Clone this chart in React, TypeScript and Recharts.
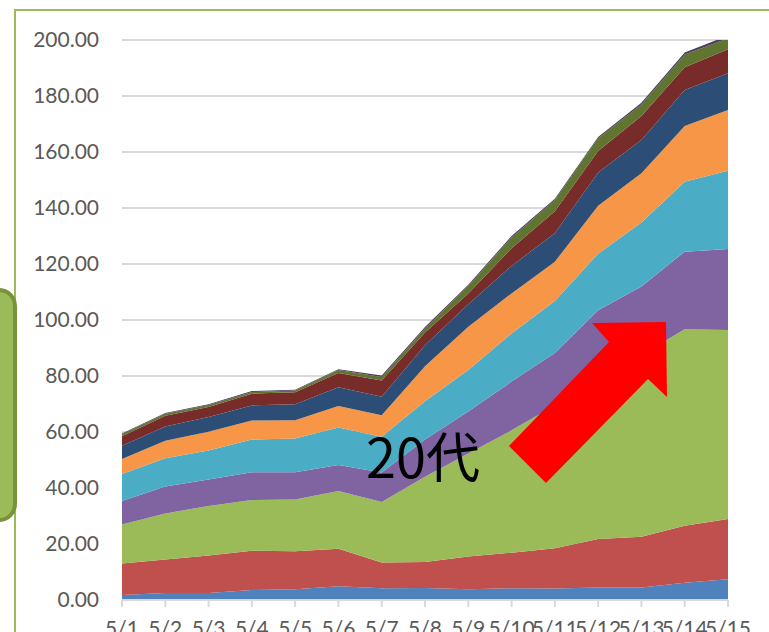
import { AreaChart, Area, XAxis, YAxis, CartesianGrid } from 'recharts';

const dates = ['5/1', '5/2', '5/3', '5/4', '5/5', '5/6', '5/7', '5/8', '5/9', '5/10', '5/11', '5/12', '5/13', '5/14', '5/15'];

// values per age group, stacked bottom to top
const under10 = [1.8, 2.5, 2.5, 3.6, 3.8, 4.9, 4.2, 4.3, 3.8, 4.2, 4.1, 4.5, 4.5, 6.2, 7.4];
const teens = [11.2, 12.0, 13.4, 14.0, 13.6, 13.4, 9.2, 9.3, 11.7, 12.7, 14.4, 17.3, 18.1, 20.3, 21.5];
const twenties = [14.0, 16.4, 17.7, 18.1, 18.5, 20.6, 21.6, 30.4, 36.8, 43.7, 51.0, 57.2, 64.9, 70.2, 67.5];
const thirties = [8.4, 9.6, 9.4, 9.9, 9.7, 9.3, 10.5, 13.3, 15.0, 17.4, 18.7, 24.5, 24.5, 27.7, 29.0];
const forties = [9.6, 10.1, 10.4, 11.7, 12.1, 13.4, 12.8, 13.7, 14.8, 17.2, 18.6, 20.2, 22.8, 25.0, 27.9];
const fifties = [5.4, 6.3, 6.7, 6.8, 6.5, 7.7, 7.7, 12.5, 15.5, 14.3, 14.0, 17.1, 17.6, 19.9, 21.7];
const sixties = [4.7, 5.1, 5.3, 5.4, 5.7, 6.7, 6.6, 7.5, 8.0, 9.8, 10.2, 11.9, 11.9, 12.8, 13.1];
const seventies = [3.4, 3.8, 3.5, 4.2, 4.3, 5.1, 5.8, 4.5, 3.9, 6.3, 7.8, 7.7, 8.6, 8.2, 8.6];
const eighties = [0.7, 0.7, 0.7, 0.6, 0.6, 1.0, 1.2, 1.5, 2.6, 3.9, 4.1, 4.5, 4.1, 4.5, 3.9];
const nineties = [0.3, 0.3, 0.3, 0.3, 0.3, 0.3, 0.6, 0.5, 0.5, 0.5, 0.4, 0.5, 0.6, 0.7, 1.0];

const yTicks = [0, 20, 40, 60, 80, 100, 120, 140, 160, 180, 200];

const SERIES = [
  { key: 'under10', values: under10, color: '#4F81BD' },
  { key: 'teens', values: teens, color: '#C0504D' },
  { key: 'twenties', values: twenties, color: '#9BBB59' },
  { key: 'thirties', values: thirties, color: '#8064A2' },
  { key: 'forties', values: forties, color: '#4BACC6' },
  { key: 'fifties', values: fifties, color: '#F79646' },
  { key: 'sixties', values: sixties, color: '#2C4D75' },
  { key: 'seventies', values: seventies, color: '#772C2A' },
  { key: 'eighties', values: eighties, color: '#5F7530' },
  { key: 'nineties', values: nineties, color: '#4D3B62' },
];

const data = dates.map((date, i) => {
  const row: Record<string, string | number> = { date };
  SERIES.forEach((s) => {
    row[s.key] = s.values[i];
  });
  return row;
});

const FONT = 'Lato, "Noto Sans", sans-serif';

export default function App() {
  return (
    <div style={{ position: 'absolute', left: 0, top: 0, width: 769, height: 632, overflow: 'hidden', background: '#fff' }}>
      <div
        style={{
          position: 'absolute',
          left: 14,
          top: 9,
          width: 820,
          height: 700,
          border: '2px solid #9BBB59',
          background: '#fff',
        }}
      />
      <div style={{ position: 'absolute', left: 0, top: 0 }}>
        <AreaChart width={769} height={632} data={data} margin={{ top: 40, right: 41, bottom: 0, left: 0 }}>
          <CartesianGrid vertical={false} stroke="#D9D9D9" strokeWidth={2} />
          <XAxis
            dataKey="date"
            interval={0}
            height={32}
            axisLine={{ stroke: '#D9D9D9', strokeWidth: 2 }}
            tickLine={{ stroke: '#D9D9D9', strokeWidth: 2 }}
            tickSize={7}
            tick={(p: any) => (
              <text x={p.x} y={636} textAnchor="middle" fontSize={21} fontFamily={FONT} fill="#595959">
                {p.payload.value}
              </text>
            )}
          />
          <YAxis
            domain={[0, 200]}
            ticks={yTicks}
            allowDataOverflow
            width={122}
            axisLine={false}
            tickLine={false}
            tick={(p: any) => (
              <text x={99} y={p.y} dy="0.35em" textAnchor="end" fontSize={21} fontFamily={FONT} fill="#595959">
                {Number(p.payload.value).toFixed(2)}
              </text>
            )}
          />
          {SERIES.map((s) => (
            <Area
              key={s.key}
              type="linear"
              dataKey={s.key}
              stackId="1"
              stroke="none"
              fill={s.color}
              fillOpacity={1}
              isAnimationActive={false}
            />
          ))}
        </AreaChart>
      </div>
      <svg width={769} height={632} style={{ position: 'absolute', left: 0, top: 0, pointerEvents: 'none' }}>
        <polygon points="509,446 609,342 592,323 666,322 667,397 648,379 546,483" fill="#FF0000" />
        <text x={366} y={478} fontSize={54} fontFamily='"Noto Sans CJK JP", sans-serif' fill="#000">
          20代
        </text>
      </svg>
      <div
        style={{
          position: 'absolute',
          left: -30,
          top: 288,
          width: 39,
          height: 226,
          borderRadius: 18,
          background: '#9BBB59',
          border: '4px solid #77933C',
        }}
      />
    </div>
  );
}
